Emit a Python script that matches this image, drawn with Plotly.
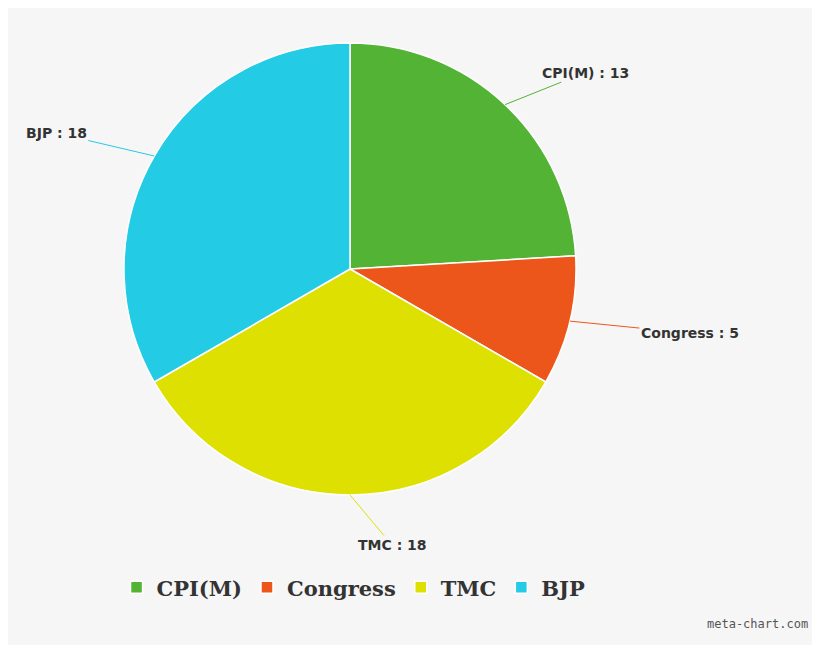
import math
import plotly.graph_objects as go

# data
parties = ["CPI(M)", "Congress", "TMC", "BJP"]
seats = [13, 5, 18, 18]
colors = ["#52b335", "#ec561b", "#dde000", "#24cbe5"]

W, H = 804, 637
cx, cy, r = 342, 261, 226  # pie centre/radius in pixels
# label offsets (pixels) per slice
offsets = [(80, -32), (120, 12), (42, 50), (-98, -23)]

fig = go.Figure()
fig.add_trace(go.Pie(
    labels=parties, values=seats, sort=False, direction="clockwise", rotation=0,
    marker=dict(colors=colors, line=dict(color="#ffffff", width=1.5)),
    textinfo="none", hoverinfo="label+value",
    domain=dict(x=[(cx - r) / W, (cx + r) / W], y=[1 - (cy + r) / H, 1 - (cy - r) / H]),
))

# outside labels with leader lines
total = sum(seats)
acc = 0
for p, v, c, (ox, oy) in zip(parties, seats, colors, offsets):
    mid = (acc + v / 2) / total * 2 * math.pi
    acc += v
    px = cx + r * math.sin(mid)
    py = cy - r * math.cos(mid)
    fig.add_annotation(
        x=px / W, y=1 - py / H, xref="paper", yref="paper",
        ax=ox, ay=oy, text=f"<b>{p} : {v}</b>", showarrow=True, arrowhead=0,
        arrowcolor=c, arrowwidth=1, font=dict(family="DejaVu Sans", size=14, color="#333333"),
    )

fig.add_annotation(x=1, y=0, xref="paper", yref="paper", xanchor="right", yanchor="bottom",
                   xshift=-2, yshift=12, text="meta-chart.com", showarrow=False,
                   font=dict(family="DejaVu Sans Mono", size=12, color="#555555"))

fig.update_layout(
    width=W, height=H, margin=dict(l=0, r=0, t=0, b=0),
    paper_bgcolor="#f6f6f6", plot_bgcolor="#f6f6f6",
    legend=dict(orientation="h", x=0.135, xanchor="left", y=0.09, yanchor="middle",
                font=dict(family="DejaVu Serif", size=21, color="#333333", weight="bold"),
                bgcolor="rgba(0,0,0,0)", entrywidthmode="pixels", traceorder="normal"),
)
fig.write_html("out.html")
